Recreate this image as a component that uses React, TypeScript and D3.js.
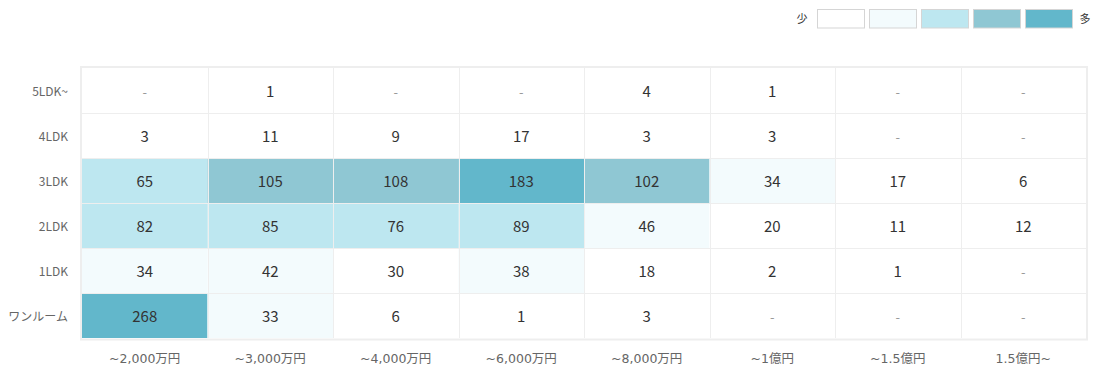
import React from "react";
import * as d3 from "d3";

const columns = ["~2,000万円", "~3,000万円", "~4,000万円", "~6,000万円", "~8,000万円", "~1億円", "~1.5億円", "1.5億円~"];
const rows = ["5LDK~", "4LDK", "3LDK", "2LDK", "1LDK", "ワンルーム"];
const values: (number | null)[][] = [
  [null, 1, null, null, 4, 1, null, null],
  [3, 11, 9, 17, 3, 3, null, null],
  [65, 105, 108, 183, 102, 34, 17, 6],
  [82, 85, 76, 89, 46, 20, 11, 12],
  [34, 42, 30, 38, 18, 2, 1, null],
  [268, 33, 6, 1, 3, null, null, null],
];
const thresholds = [31, 50, 100, 150];
const palette = ["#ffffff", "#f3fbfd", "#bde7f0", "#8fc7d3", "#62b7cb"];

const W = 1101, H = 376;
const FONT = "'Noto Sans CJK JP', 'Noto Sans', sans-serif";
const AXFONT = "'DejaVu Sans', 'Noto Sans CJK JP', sans-serif";

export default function App() {
  const x = d3.scaleBand<string>().domain(columns).range([82, 1086]);
  const y = d3.scaleBand<string>().domain(rows).range([68, 338]);
  const color = d3.scaleThreshold<number, string>().domain(thresholds).range(palette);
  const legendX = d3.scaleBand<number>().domain(d3.range(palette.length)).range([817, 1073]).paddingInner(4 / 52);

  const cells: { r: string; c: string; v: number | null }[] = [];
  rows.forEach((r, i) => columns.forEach((c, j) => cells.push({ r, c, v: values[i][j] })));

  return (
    <svg width={W} height={H} style={{ position: "absolute", left: 0, top: 0 }} fontFamily={FONT}>
      <rect x={0} y={0} width={W} height={H} fill="#fff" />
      {/* legend */}
      <text x={802} y={23} fontSize={11} fill="#333" textAnchor="middle">少</text>
      {palette.map((p, i) => (
        <rect key={i} x={legendX(i)! + 0.5} y={9.5} width={legendX.bandwidth() - 1} height={18.5} fill={p} stroke="#d5d5d5" strokeWidth={1} />
      ))}
      <text x={1085} y={23} fontSize={11} fill="#333" textAnchor="middle">多</text>
      {/* cells */}
      {cells.map((d, k) => (
        <rect key={k} x={x(d.c)!} y={y(d.r)!} width={x.bandwidth()} height={y.bandwidth()}
          fill={d.v == null ? "#fff" : color(d.v)} />
      ))}
      {/* grid lines */}
      {columns.slice(1).map((c) => (
        <line key={c} x1={Math.round(x(c)!) + 0.5} x2={Math.round(x(c)!) + 0.5} y1={68} y2={338} stroke="#eeeeee" strokeWidth={1} />
      ))}
      {rows.slice(1).map((r) => (
        <line key={r} x1={82} x2={1086} y1={Math.round(y(r)!) + 0.5} y2={Math.round(y(r)!) + 0.5} stroke="#eeeeee" strokeWidth={1} />
      ))}
      <rect x={81} y={67} width={1006} height={272.5} fill="none" stroke="#eeeeee" strokeWidth={2} />
      {/* values */}
      {cells.map((d, k) => (
        <text key={"t" + k} x={x(d.c)! + x.bandwidth() / 2} y={y(d.r)! + y.bandwidth() / 2 + 6}
          textAnchor="middle" fontSize={d.v == null ? 13 : 15} fill={d.v == null ? "#999" : "#333"}>
          {d.v == null ? "-" : d.v}
        </text>
      ))}
      {/* row labels */}
      {rows.map((r) => (
        <text key={r} x={68} y={y(r)! + y.bandwidth() / 2 + 5.5} textAnchor="end" fontSize={12} fill="#666">{r}</text>
      ))}
      {/* column labels */}
      {columns.map((c) => (
        <text key={c} x={x(c)! + x.bandwidth() / 2} y={363} textAnchor="middle" fontSize={12.5} fill="#666" fontFamily={AXFONT}>{c}</text>
      ))}
    </svg>
  );
}
